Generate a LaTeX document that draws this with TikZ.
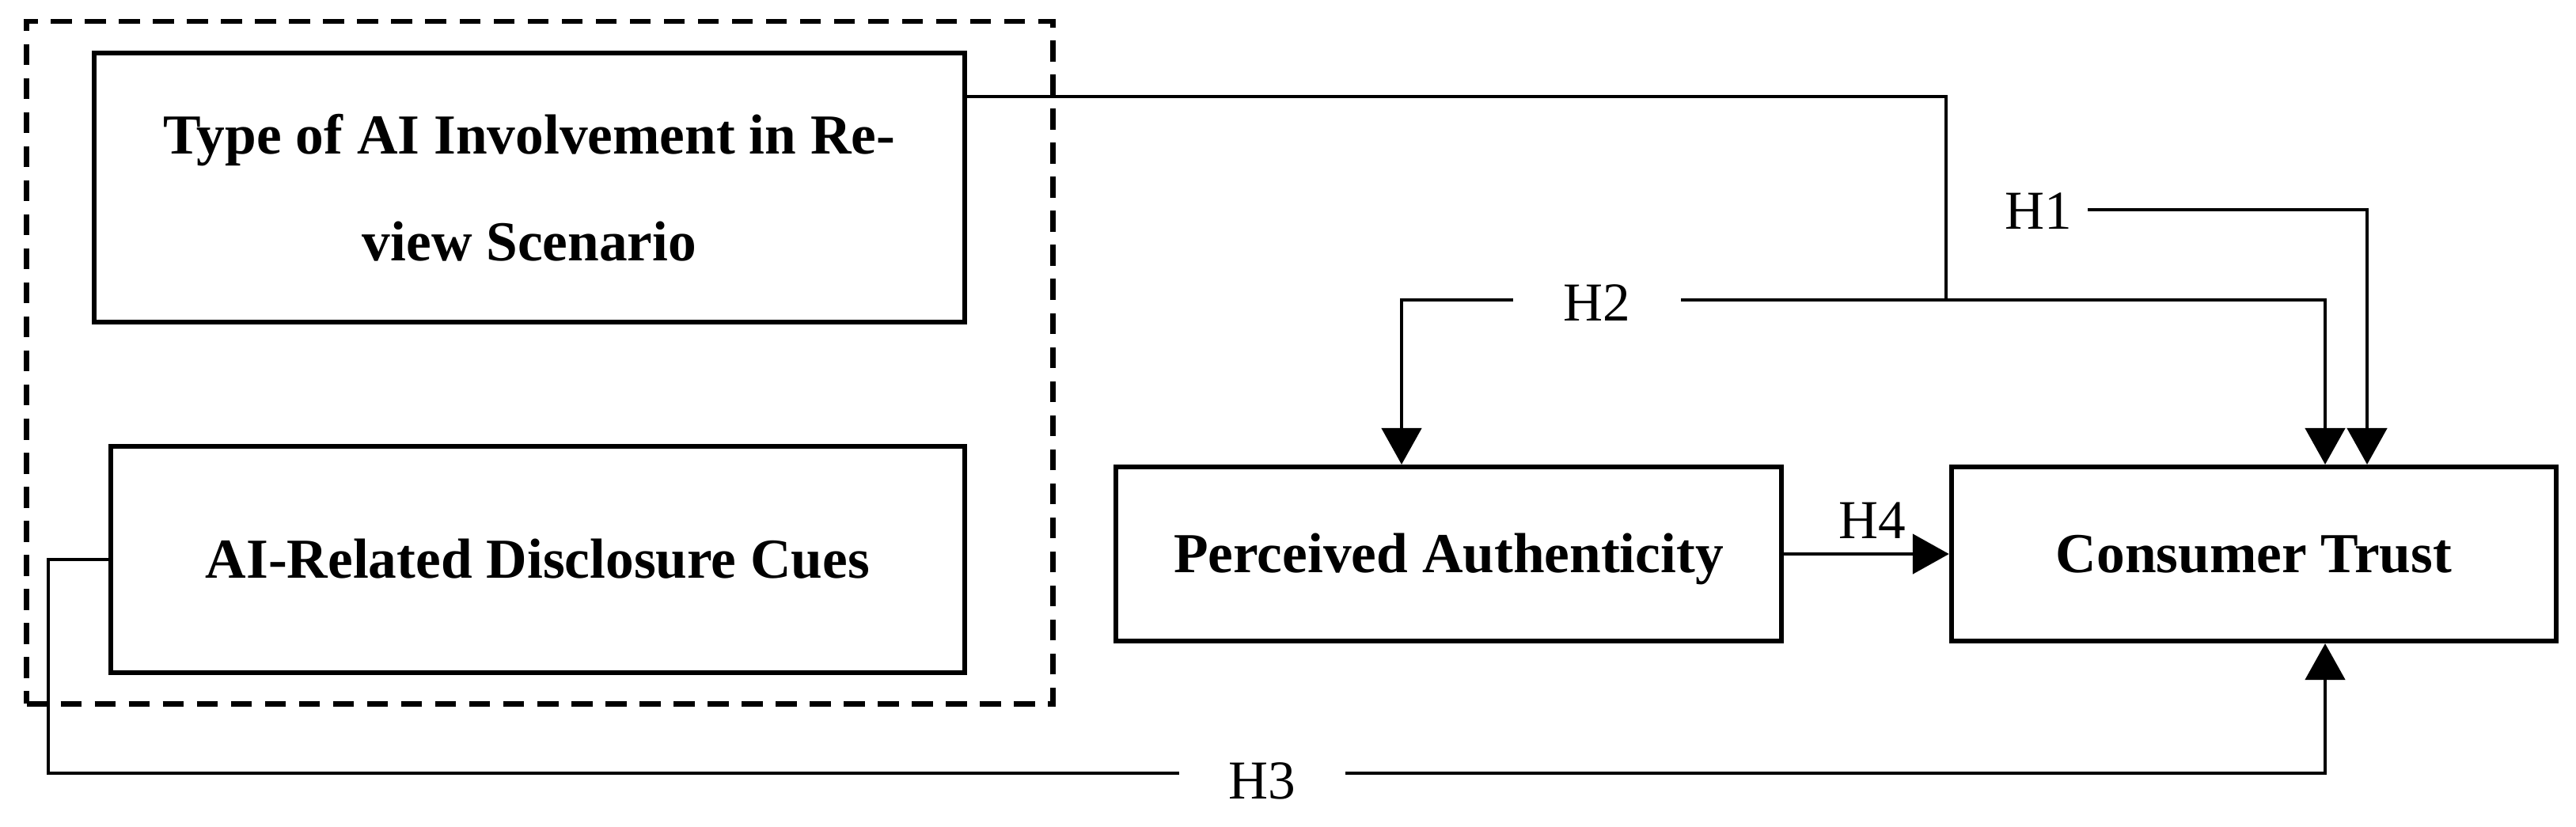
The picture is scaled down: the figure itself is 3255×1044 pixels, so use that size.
\documentclass[tikz,border=0pt]{standalone}
\usepackage{fontspec}
\setmainfont{Liberation Serif}
\usetikzlibrary{arrows.meta}
\begin{document}
\begin{tikzpicture}[x=0.01cm,y=-0.01cm,
  boxbase/.style={draw, line width=0.06cm, inner sep=0pt,
    font=\fontsize{20.3}{38.5}\bfseries\selectfont},
  boxtwo/.style={boxbase, align=center},
  boxst/.style={boxbase, text height=13.4pt, text depth=0pt},
  lbl/.style={inner ysep=0pt, font=\fontsize{19.7}{22}\selectfont},
  conn/.style={line width=0.048cm},
  arr/.style={conn, -{Triangle[length=0.46cm,width=0.5cm]}},
  dashbox/.style={draw, line width=0.065cm, dash pattern=on 0.265cm off 0.165cm}
]
\useasboundingbox (0,0) rectangle (3255,1044);
% dashed group
\node[dashbox, minimum width=12.96cm, minimum height=8.62cm] (grp) at (682,458) {};
% boxes
\node[boxtwo, minimum width=11cm, minimum height=3.4cm] (type) at (669,237)
  {Type of AI Involvement in Re-\\view Scenario};
\node[boxst, minimum width=10.79cm, minimum height=2.86cm] (disc) at (679.5,707)
  {AI-Related Disclosure Cues};
\node[boxst, minimum width=8.41cm, minimum height=2.2cm] (pa) at (1830.5,700)
  {Perceived Authenticity};
\node[boxst, minimum width=7.64cm, minimum height=2.2cm] (ct) at (2848,700)
  {Consumer Trust};
% labels
\node[lbl, inner xsep=0.19cm] (h1) at (2576,267) {H1};
\node[lbl, inner xsep=0.63cm] (h2) at (2018,383) {H2};
\node[lbl, inner xsep=0.62cm] (h3) at (1595,987) {H3};
\node[lbl, inner sep=0pt] (h4) at (2366,658) {H4};
% coordinates
\coordinate (j1) at (2459,379);
\coordinate (xa) at (1771,0);
\coordinate (xb) at (2938,0);
\coordinate (xc) at (2991,0);
\coordinate (c3) at (61,977);
\coordinate (y1) at (0,265);
% connectors
\draw[conn] ([yshift=-0.58cm]type.north east) -| (j1);
\draw[arr] (h2.west |- j1) -| (pa.north -| xa);
\draw[arr] (h2.east |- j1) -| (ct.north -| xb);
\draw[arr] (h1.east |- y1) -| (ct.north -| xc);
\draw[arr] (pa.east) -- (ct.west);
\draw[conn] (disc.west) -| (c3) -- (h3.west |- c3);
\draw[arr] (h3.east |- c3) -| (ct.south -| xb);
\end{tikzpicture}
\end{document}
